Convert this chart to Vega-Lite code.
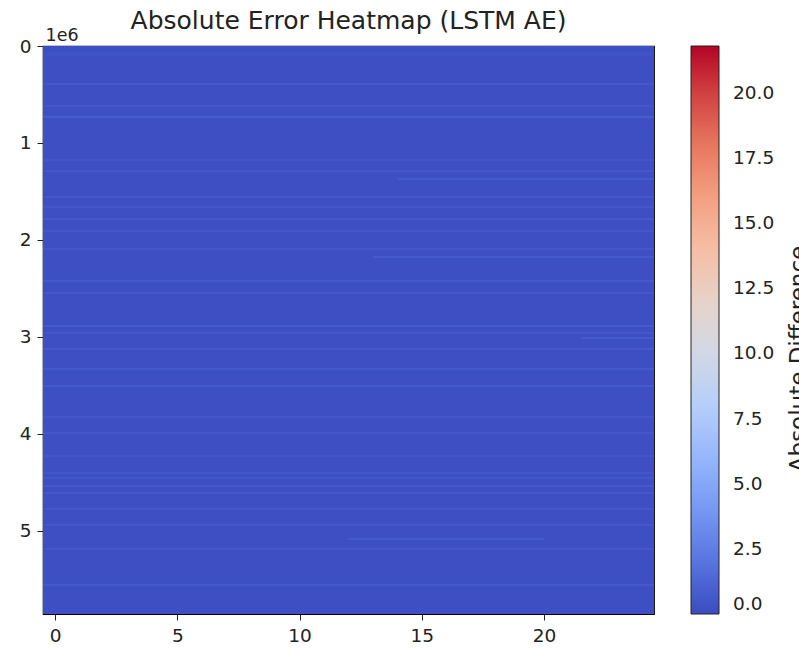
{
  "$schema": "https://vega.github.io/schema/vega-lite/v6.json",
  "autosize": {"type": "none"},
  "padding": {"top": 46, "left": 43, "right": 145, "bottom": 35},
  "width": 611,
  "height": 568,
  "background": "white",
  "title": {
    "text": "Absolute Error Heatmap (LSTM AE)",
    "font": "DejaVu Sans",
    "fontSize": 25,
    "fontWeight": "normal",
    "color": "#222222",
    "anchor": "middle",
    "offset": 12,
    "dy": 20
  },
  "config": {
    "font": "DejaVu Sans",
    "view": {"stroke": "black", "strokeWidth": 1.2},
    "axis": {
      "labelFont": "DejaVu Sans",
      "labelFontSize": 18.5,
      "labelColor": "#222222",
      "domain": false,
      "grid": false,
      "tickColor": "#222222",
      "tickSize": 6,
      "labelPadding": 6
    }
  },
  "data": {
    "values": [
      {"x0": -0.5, "x1": 24.5, "y0": 0, "y1": 5856000, "v": 0.15},
      {"x0": -0.5, "x1": 24.5, "y0": 62000, "y1": 100000, "v": 0.35},
      {"x0": -0.5, "x1": 24.5, "y0": 382000, "y1": 402000, "v": 0.5},
      {"x0": -0.5, "x1": 24.5, "y0": 609000, "y1": 629000, "v": 0.5},
      {"x0": -0.5, "x1": 24.5, "y0": 720000, "y1": 744000, "v": 0.75},
      {"x0": -0.5, "x1": 24.5, "y0": 1165000, "y1": 1185000, "v": 0.5},
      {"x0": -0.5, "x1": 24.5, "y0": 1279000, "y1": 1299000, "v": 0.5},
      {"x0": 14, "x1": 24.5, "y0": 1360000, "y1": 1382000, "v": 0.7},
      {"x0": -0.5, "x1": 24.5, "y0": 1547000, "y1": 1567000, "v": 0.55},
      {"x0": -0.5, "x1": 24.5, "y0": 1650000, "y1": 1670000, "v": 0.5},
      {"x0": -0.5, "x1": 24.5, "y0": 1774000, "y1": 1794000, "v": 0.6},
      {"x0": -0.5, "x1": 24.5, "y0": 1897000, "y1": 1917000, "v": 0.5},
      {"x0": -0.5, "x1": 24.5, "y0": 2083000, "y1": 2103000, "v": 0.55},
      {"x0": 13, "x1": 24.5, "y0": 2164000, "y1": 2186000, "v": 0.7},
      {"x0": -0.5, "x1": 24.5, "y0": 2412000, "y1": 2434000, "v": 0.65},
      {"x0": -0.5, "x1": 24.5, "y0": 2536000, "y1": 2556000, "v": 0.55},
      {"x0": -0.5, "x1": 24.5, "y0": 2876000, "y1": 2898000, "v": 0.7},
      {"x0": -0.5, "x1": 24.5, "y0": 2949000, "y1": 2969000, "v": 0.5},
      {"x0": 21.5, "x1": 24.5, "y0": 2999000, "y1": 3021000, "v": 0.7},
      {"x0": -0.5, "x1": 24.5, "y0": 3113000, "y1": 3135000, "v": 0.6},
      {"x0": -0.5, "x1": 24.5, "y0": 3319000, "y1": 3341000, "v": 0.65},
      {"x0": -0.5, "x1": 24.5, "y0": 3494000, "y1": 3516000, "v": 0.65},
      {"x0": -0.5, "x1": 24.5, "y0": 3815000, "y1": 3835000, "v": 0.5},
      {"x0": -0.5, "x1": 24.5, "y0": 3980000, "y1": 4000000, "v": 0.5},
      {"x0": -0.5, "x1": 24.5, "y0": 4217000, "y1": 4237000, "v": 0.5},
      {"x0": -0.5, "x1": 24.5, "y0": 4392000, "y1": 4412000, "v": 0.5},
      {"x0": -0.5, "x1": 24.5, "y0": 4444000, "y1": 4464000, "v": 0.5},
      {"x0": -0.5, "x1": 24.5, "y0": 4525000, "y1": 4547000, "v": 0.6},
      {"x0": -0.5, "x1": 24.5, "y0": 4598000, "y1": 4618000, "v": 0.55},
      {"x0": -0.5, "x1": 24.5, "y0": 4763000, "y1": 4783000, "v": 0.5},
      {"x0": -0.5, "x1": 24.5, "y0": 4928000, "y1": 4948000, "v": 0.5},
      {"x0": 12, "x1": 20, "y0": 5071000, "y1": 5093000, "v": 0.7},
      {"x0": -0.5, "x1": 24.5, "y0": 5176000, "y1": 5196000, "v": 0.5},
      {"x0": -0.5, "x1": 24.5, "y0": 5545000, "y1": 5567000, "v": 0.65}
    ]
  },
  "mark": {"type": "rect", "strokeWidth": 0},
  "encoding": {
    "x": {
      "field": "x0",
      "type": "quantitative",
      "scale": {"domain": [-0.5, 24.5], "nice": false, "zero": false},
      "axis": {"values": [0, 5, 10, 15, 20], "title": null, "labelFlush": false}
    },
    "x2": {"field": "x1"},
    "y": {
      "field": "y0",
      "type": "quantitative",
      "scale": {"domain": [0, 5856000], "nice": false, "zero": false, "reverse": true},
      "axis": {
        "values": [0, 1000000, 2000000, 3000000, 4000000, 5000000],
        "labelExpr": "datum.value / 1000000",
        "labelFlush": false,
        "title": "1e6",
        "titleAngle": 0,
        "titleFont": "DejaVu Sans",
        "titleFontSize": 17.5,
        "titleFontWeight": "normal",
        "titleColor": "#222222",
        "titleAlign": "left",
        "titleBaseline": "alphabetic",
        "titleX": 2,
        "titleY": -6
      }
    },
    "y2": {"field": "y1"},
    "color": {
      "field": "v",
      "type": "quantitative",
      "scale": {
        "domain": [0, 2.725, 5.45, 8.175, 10.9, 13.625, 16.35, 19.075, 21.8],
        "range": ["#3b4cc0", "#6282ea", "#8db0fe", "#b9d0f9", "#dddcdc", "#f5c4ac", "#f49a7b", "#de604d", "#b40426"],
        "interpolate": "rgb"
      },
      "legend": {
        "orient": "none",
        "legendX": 648,
        "legendY": 0,
        "direction": "vertical",
        "gradientLength": 568,
        "gradientThickness": 28,
        "gradientStrokeColor": "#222222",
        "gradientStrokeWidth": 1,
        "values": [0, 2.5, 5, 7.5, 10, 12.5, 15, 17.5, 20],
        "format": ".1f",
        "labelFont": "DejaVu Sans",
        "labelFontSize": 18.5,
        "labelColor": "#222222",
        "labelOffset": 14,
        "labelOverlap": false,
        "title": "Absolute Difference",
        "titleOrient": "right",
        "titleFont": "DejaVu Sans",
        "titleFontSize": 23,
        "titleFontWeight": "normal",
        "titleColor": "#222222",
        "titleLimit": 600,
        "titlePadding": 10,
        "encode": {
          "title": {"update": {"angle": {"value": 270}, "dx": {"value": -29}, "dy": {"value": 27}}}
        }
      }
    }
  }
}
